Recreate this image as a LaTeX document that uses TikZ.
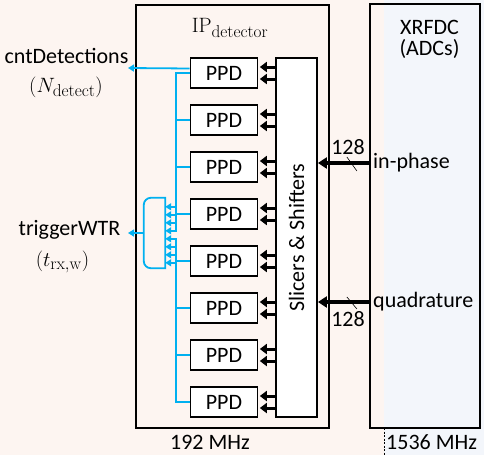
\documentclass[tikz,border=0pt]{standalone}
\usepackage{amsmath}
\usepackage{xcolor}
\usepackage{tikz}
\usepackage{amssymb}
\usepackage[no-math]{fontspec}
\setmainfont{Carlito}
\usetikzlibrary{arrows.meta,calc}
\DeclareMathSizes{20}{20}{18}{16}
\definecolor{wireblue}{RGB}{0,176,240}
\definecolor{slowbg}{RGB}{253,245,241}
\definecolor{fastbg}{RGB}{243,246,251}
\begin{document}
\begin{tikzpicture}[x=1pt,y=1pt]
\tikzstyle{every node}+=[inner sep=0pt, font=\fontsize{22}{26}\selectfont]
\tikzstyle{mathlabel}=[font=\fontsize{20}{24}\selectfont]
\tikzstyle{ppdbox}=[draw=black, line width=1.6pt, fill=white, minimum width=67, minimum height=29.5]
\tikzstyle{pairarrow}=[black, line width=3pt, -{Triangle[length=7pt,width=10pt]}]
\tikzstyle{fatarrow}=[black, line width=3.5pt, -{Triangle[length=9pt,width=11pt]}]
\tikzstyle{wire}=[wireblue, line width=1.8pt]
\tikzstyle{wiretip}=[wire, -{Triangle[length=6pt,width=7pt]}]
\fill [slowbg] (0,0) rectangle (384,-455);
\fill [fastbg] (384,0) rectangle (484,-455);
\useasboundingbox (0,0) rectangle (484,-455);
\node (ip) [draw=black, line width=1.8pt, minimum width=193, minimum height=423] at (232.5,-216.5) {};
\node (iplabel) [mathlabel, anchor=base] at (230,-32.7) {$\mathrm{IP}_{\mathrm{detector}}$};
\node (xrfdc) [draw=black, line width=1.6pt, minimum width=110, minimum height=424] at (425,-216) {};
\node (xrfdclabel) [anchor=base] at (429.5,-34) {XRFDC};
\node (adclabel) [anchor=base] at (429.5,-55) {(ADCs)};
\node (slicer) [draw=black, line width=1.8pt, fill=white, minimum width=41, minimum height=359] at (296.5,-237.5) {};
\node (slicerlabel) [rotate=90] at (slicer) {Slicers \& Shifters};
\foreach \i in {1,...,8}
  \node (ppd\i) [ppdbox] at (224,{-73-47*(\i-1)}) {PPD};
\foreach \i in {1,...,8} {
  \draw [pairarrow] ($(slicer.west |- ppd\i.east)+(0,6)$) -- ($(ppd\i.east)+(1.5,6)$);
  \draw [pairarrow] ($(slicer.west |- ppd\i.east)+(0,-6)$) -- ($(ppd\i.east)+(1.5,-6)$);
}
\node (inphase) [anchor=west] at (373,-163) {in-phase};
\node (quad) [anchor=west] at (373,-302) {quadrature};
\draw [fatarrow] (xrfdc.west |- inphase.west) -- (slicer.east |- inphase.west);
\draw [fatarrow] (xrfdc.west |- quad.west) -- (slicer.east |- quad.west);
\node (inwidth) [anchor=base] at (348,-154) {128};
\node (quadwidth) [anchor=base] at (348,-326) {128};
\draw [black, line width=0.6pt] ($(slicer.east |- inphase.west)+(29,6)$) -- ($(slicer.east |- inphase.west)+(39,-8)$);
\draw [black, line width=0.6pt] ($(slicer.east |- quad.west)+(29,5)$) -- ($(slicer.east |- quad.west)+(39,-7)$);
\node (cnt) [anchor=base] at (66.5,-63) {cntDetections};
\node (cntsym) [mathlabel, anchor=base] at (66,-92) {$(N_{\mathrm{detect}})$};
\coordinate (cntend) at (128,-68);
\draw [wiretip] ($(ppd1.west)+(0,4.5)$) -- (cntend);
\draw [wire] (ppd1.west) -- ++(-14,0) -- ++(0,-158);
\draw [wire] (ppd8.west) -- ++(-14,0) -- ++(0,163);
\foreach \i in {2,...,7}
  \draw [wire] (ppd\i.west) -- ++(-14,0);
\node (gate) [minimum width=21, minimum height=70] at (154.5,-233) {};
\draw [wire] (gate.north east) [rounded corners=7pt] -- (gate.north west) -- (gate.south west) [sharp corners] -- (gate.south east) -- cycle;
\foreach \k in {0,...,7}
  \draw [wiretip] ($(gate.north east)+(11.5,{-9-8*\k})$) -- ($(gate.north east)+(0,{-9-8*\k})$);
\node (trig) [anchor=base] at (69.5,-235) {triggerWTR};
\node (trigsym) [mathlabel, anchor=base] at (62.5,-266) {$(t_{\mathrm{rx,w}})$};
\coordinate (trigend) at (128,-233);
\draw [wiretip] (gate.west) -- (trigend);
\draw [black, line width=0.8pt, dash pattern=on 2pt off 1.5pt] (384,-428) -- (384,-455);
\node (slowclk) [anchor=base] at (210,-449.5) {192 MHz};
\node (fastclk) [anchor=base west] at (386,-449.5) {1536 MHz};
\end{tikzpicture}
\end{document}
